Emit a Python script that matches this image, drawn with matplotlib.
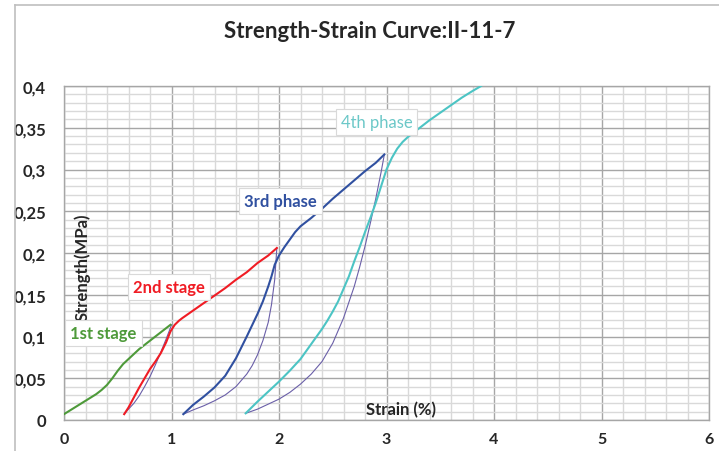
import numpy as np
import matplotlib
matplotlib.use('Agg')
import matplotlib.pyplot as plt
from matplotlib.ticker import MultipleLocator, FixedLocator

plt.rcParams['font.family'] = ['Lato', 'DejaVu Sans']

# ---- data (strain %, strength MPa)
stage1_x = [0, 0.05, 0.1, 0.15, 0.2, 0.25, 0.3, 0.35, 0.4, 0.45, 0.5, 0.55, 0.6, 0.7, 0.8, 0.9, 0.99]
stage1_y = [0.007, 0.011, 0.015, 0.019, 0.023, 0.027, 0.031, 0.036, 0.042, 0.050, 0.059, 0.067,
            0.073, 0.085, 0.095, 0.105, 0.114]

stage2_x = [0.56, 0.6, 0.65, 0.7, 0.75, 0.8, 0.85, 0.9, 0.95, 0.99, 1.03, 1.07, 1.1, 1.2, 1.3,
            1.4, 1.5, 1.6, 1.7, 1.8, 1.9, 1.98]
stage2_y = [0.007, 0.015, 0.027, 0.039, 0.050, 0.061, 0.070, 0.080, 0.093, 0.106, 0.114, 0.119,
            0.122, 0.131, 0.140, 0.149, 0.158, 0.168, 0.177, 0.188, 0.197, 0.206]

stage3_x = [1.11, 1.2, 1.3, 1.4, 1.5, 1.6, 1.7, 1.8, 1.85, 1.9, 1.93, 1.96, 2.0, 2.05, 2.1,
            2.15, 2.2, 2.3, 2.4, 2.5, 2.6, 2.7, 2.8, 2.9, 2.98]
stage3_y = [0.007, 0.018, 0.028, 0.039, 0.053, 0.074, 0.100, 0.127, 0.142, 0.160, 0.172, 0.186,
            0.197, 0.207, 0.216, 0.225, 0.232, 0.242, 0.253, 0.265, 0.276, 0.287, 0.298, 0.308, 0.318]

stage4_x = [1.69, 1.8, 1.9, 2.0, 2.1, 2.2, 2.3, 2.4, 2.45, 2.5, 2.55, 2.6, 2.65, 2.7, 2.75,
            2.8, 2.85, 2.9, 2.95, 3.0, 3.05, 3.1, 3.15, 3.2, 3.3, 3.4, 3.5, 3.6, 3.7, 3.8, 3.88]
stage4_y = [0.008, 0.022, 0.034, 0.046, 0.059, 0.073, 0.091, 0.109, 0.119, 0.130, 0.142, 0.157,
            0.172, 0.190, 0.207, 0.225, 0.242, 0.260, 0.280, 0.300, 0.314, 0.325, 0.333, 0.339,
            0.349, 0.359, 0.368, 0.377, 0.386, 0.394, 0.400]

# thin reload curves
thin1_x = [0.56, 0.6, 0.65, 0.7, 0.75, 0.8, 0.85, 0.9, 0.95, 0.98, 1.0]
thin1_y = [0.007, 0.013, 0.020, 0.029, 0.040, 0.052, 0.066, 0.081, 0.097, 0.107, 0.114]
thin2_x = [1.11, 1.2, 1.3, 1.4, 1.5, 1.6, 1.7, 1.75, 1.8, 1.85, 1.9, 1.93, 1.96, 1.98]
thin2_y = [0.007, 0.012, 0.017, 0.023, 0.030, 0.040, 0.055, 0.065, 0.078, 0.095, 0.117, 0.138,
           0.168, 0.206]
thin3_x = [1.69, 1.8, 1.9, 2.0, 2.1, 2.2, 2.3, 2.4, 2.5, 2.6, 2.7, 2.75, 2.8, 2.85, 2.9, 2.95, 2.98]
thin3_y = [0.008, 0.013, 0.019, 0.025, 0.033, 0.043, 0.055, 0.070, 0.092, 0.122, 0.160, 0.183,
           0.208, 0.236, 0.265, 0.297, 0.318]

x_ticks = [0, 1, 2, 3, 4, 5, 6]
y_ticks = [0, 0.05, 0.1, 0.15, 0.2, 0.25, 0.3, 0.35, 0.4]
y_tick_labels = ['0', '0,05', '0,1', '0,15', '0,2', '0,25', '0,3', '0,35', '0,4']

green = '#4e9a3a'
red = '#f01c24'
blue = '#3050a0'
cyan = '#4cc4c4'
purple = '#6a5fa8'

fig = plt.figure(figsize=(7.19, 4.52), dpi=100)
ax = fig.add_axes([64 / 719, 31 / 452, 645 / 719, 334 / 452])

# outer chart border (top and left visible)
fig.add_artist(plt.Line2D([15 / 719, 1], [1 - 6 / 452, 1 - 6 / 452], color='#bfbfbf', lw=1.2))
fig.add_artist(plt.Line2D([15 / 719, 15 / 719], [0, 1 - 6 / 452], color='#bfbfbf', lw=1.2))

ax.plot(thin1_x, thin1_y, color=purple, lw=0.8, zorder=3)
ax.plot(thin2_x, thin2_y, color=purple, lw=0.8, zorder=3)
ax.plot(thin3_x, thin3_y, color=purple, lw=0.8, zorder=3)
ax.plot(stage1_x, stage1_y, color=green, lw=1.5, zorder=4)
ax.plot(stage2_x, stage2_y, color=red, lw=1.5, zorder=4)
ax.plot(stage3_x, stage3_y, color=blue, lw=1.5, zorder=4)
ax.plot(stage4_x, stage4_y, color=cyan, lw=1.5, zorder=4)

ax.set_xlim(0, 6)
ax.set_ylim(0, 0.4)
ax.xaxis.set_major_locator(FixedLocator(x_ticks))
ax.yaxis.set_major_locator(FixedLocator(y_ticks))
ax.xaxis.set_minor_locator(MultipleLocator(0.2))
ax.yaxis.set_minor_locator(MultipleLocator(0.01))
ax.set_xticklabels([str(t) for t in x_ticks])
ax.set_yticklabels(y_tick_labels)
ax.tick_params(which='both', length=0)
ax.tick_params(axis='x', pad=9, labelsize=11.5)
ax.tick_params(axis='y', pad=13, labelsize=12)
for lbl in ax.get_xticklabels() + ax.get_yticklabels():
    lbl.set_fontweight('bold')
    lbl.set_color('#262626')

ax.grid(which='major', color='#a6a6a6', lw=1.0)
ax.grid(which='minor', color='#d9d9d9', lw=1.0)
ax.set_axisbelow(True)
for s in ax.spines.values():
    s.set_color('#a6a6a6')
    s.set_linewidth(1.0)

# axis titles sit inside the plot area
ax.text(0.029, 0.461, 'Strength(MPa)', transform=ax.transAxes, rotation=90,
        ha='center', va='center', fontsize=12, fontweight='bold', color='#262626')
ax.text(0.522, 0.033, 'Strain (%)', transform=ax.transAxes,
        ha='center', va='center', fontsize=12, fontweight='bold', color='#262626')

fig.text(370 / 719, 1 - 32 / 452, 'Strength-Strain Curve:II-11-7', ha='center', va='center',
         fontsize=16, fontweight='bold', color='#262626')

box = dict(boxstyle='square,pad=0.3', fc='white', ec='#d9d9d9', lw=0.8)
ax.text(0.367, 0.104, '1st stage', color=green, fontsize=12, fontweight='bold',
        ha='center', va='center', bbox=box, zorder=6)
ax.text(0.977, 0.1587, '2nd stage', color=red, fontsize=12, fontweight='bold',
        ha='center', va='center', bbox=box, zorder=6)
ax.text(2.014, 0.2623, '3rd phase', color=blue, fontsize=12, fontweight='bold',
        ha='center', va='center', bbox=box, zorder=6)
ax.text(2.907, 0.357, '4th phase', color='#6cc8c8', fontsize=12,
        ha='center', va='center', bbox=box, zorder=6)

fig.savefig('out.png', dpi=100)
